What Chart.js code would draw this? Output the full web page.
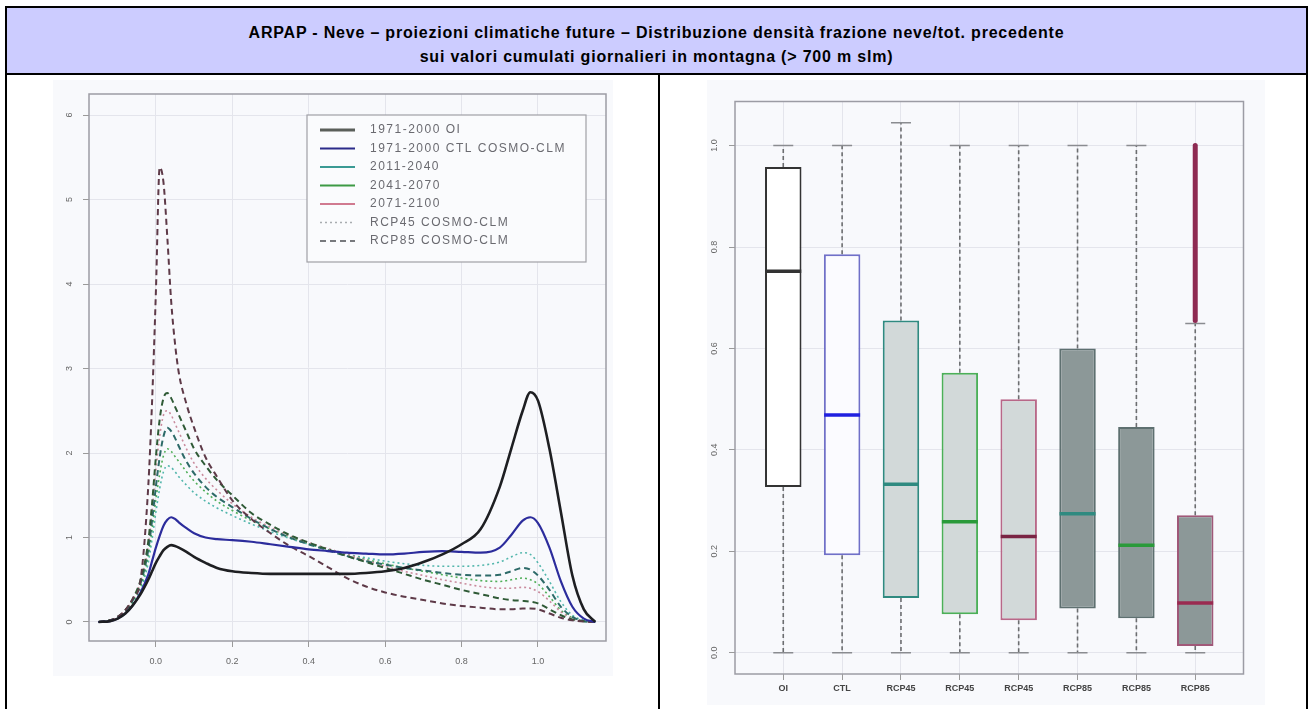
<!DOCTYPE html>
<html>
<head>
<meta charset="utf-8">
<title>ARPAP - Neve</title>
<script src="https://cdn.jsdelivr.net/npm/chart.js@4.4.0/dist/chart.umd.min.js"></script>
<style>
  body { margin: 0; width: 1314px; height: 709px; overflow: hidden; position: relative; background: #fff; font-family: "Liberation Sans", Arial, sans-serif; }
  #title { position: absolute; left: 5px; top: 6px; width: 1303px; height: 69px; box-sizing: border-box; border: 2px solid #000; background: #ccccff;
           text-align: center; font-weight: bold; font-size: 16px; letter-spacing: 0.8px; line-height: 24px; padding-top: 13px; color: #000; }
  .vline { position: absolute; top: 73px; width: 2px; height: 640px; background: #000; }
  .panel { position: absolute; background: #f8f9fc; }
  #leftPanel { left: 53px; top: 80px; width: 560px; height: 596px; }
  #rightPanel { left: 707px; top: 80px; width: 558px; height: 625px; }
</style>
</head>
<body>
<div id="title">ARPAP - Neve – proiezioni climatiche future – Distribuzione densità frazione neve/tot. precedente<br>sui valori cumulati giornalieri in montagna (&gt; 700 m slm)</div>
<div class="vline" style="left:5px"></div>
<div class="vline" style="left:658px"></div>
<div class="vline" style="left:1306px"></div>
<div class="panel" id="leftPanel"><canvas id="densChart"></canvas></div>
<div class="panel" id="rightPanel"><canvas id="boxChart"></canvas></div>

<script>
// ---- densità (pannello sinistro) ----
const densX = [-0.15, -0.12, -0.1, -0.08, -0.06, -0.04, -0.02, -0.01, 0, 0.01, 0.02, 0.03, 0.04, 0.05, 0.06, 0.08, 0.1, 0.13, 0.16, 0.2,
  0.25, 0.3, 0.35, 0.4, 0.45, 0.5, 0.55, 0.6, 0.65, 0.7, 0.75, 0.8, 0.85, 0.9, 0.93, 0.96, 0.98, 1.0, 1.03, 1.06, 1.09, 1.12, 1.15];
const densOI = [0, 0.01, 0.04, 0.1, 0.2, 0.33, 0.5, 0.6, 0.7, 0.78, 0.85, 0.89, 0.91, 0.9, 0.88, 0.83, 0.77, 0.7, 0.64, 0.6,
  0.58, 0.57, 0.57, 0.57, 0.57, 0.57, 0.58, 0.6, 0.64, 0.71, 0.8, 0.92, 1.1, 1.6, 2.05, 2.5, 2.72, 2.62, 2.05, 1.3, 0.55, 0.15, 0];
const densCTL = [0, 0.01, 0.04, 0.1, 0.2, 0.35, 0.56, 0.72, 0.88, 1.02, 1.14, 1.21, 1.24, 1.22, 1.18, 1.11, 1.05, 1.0, 0.98, 0.97,
  0.95, 0.92, 0.89, 0.86, 0.84, 0.82, 0.81, 0.8, 0.81, 0.83, 0.84, 0.83, 0.82, 0.88, 1.03, 1.2, 1.24, 1.17, 0.88, 0.48, 0.18, 0.04, 0];
const dens45_2011 = [0, 0.02, 0.05, 0.11, 0.22, 0.38, 0.7, 0.98, 1.3, 1.58, 1.78, 1.85, 1.83, 1.78, 1.72, 1.62, 1.53, 1.43, 1.35, 1.26,
  1.16, 1.07, 0.99, 0.92, 0.86, 0.8, 0.76, 0.72, 0.69, 0.67, 0.66, 0.66, 0.67, 0.71, 0.77, 0.82, 0.8, 0.7, 0.48, 0.24, 0.08, 0.02, 0];
const dens85_2011 = [0, 0.02, 0.06, 0.13, 0.26, 0.46, 0.85, 1.2, 1.6, 1.95, 2.2, 2.3, 2.26, 2.18, 2.08, 1.9, 1.76, 1.6, 1.48, 1.36,
  1.22, 1.1, 1.0, 0.92, 0.85, 0.78, 0.72, 0.68, 0.64, 0.61, 0.58, 0.56, 0.55, 0.56, 0.6, 0.64, 0.62, 0.55, 0.38, 0.18, 0.06, 0.01, 0];
const dens45_2041 = [0, 0.02, 0.05, 0.12, 0.24, 0.42, 0.78, 1.1, 1.45, 1.75, 1.97, 2.05, 2.02, 1.96, 1.9, 1.78, 1.67, 1.54, 1.43, 1.32,
  1.2, 1.1, 1.01, 0.93, 0.86, 0.8, 0.74, 0.69, 0.64, 0.6, 0.56, 0.52, 0.49, 0.48, 0.5, 0.52, 0.5, 0.45, 0.3, 0.14, 0.05, 0.01, 0];
const dens85_2041 = [0, 0.02, 0.06, 0.14, 0.28, 0.5, 0.95, 1.4, 1.95, 2.4, 2.65, 2.71, 2.65, 2.55, 2.45, 2.25, 2.05, 1.85, 1.68, 1.5,
  1.29, 1.15, 1.03, 0.94, 0.86, 0.78, 0.71, 0.64, 0.57, 0.5, 0.44, 0.38, 0.33, 0.28, 0.26, 0.25, 0.24, 0.22, 0.15, 0.08, 0.03, 0.01, 0];
const dens45_2071 = [0, 0.02, 0.06, 0.14, 0.27, 0.48, 0.9, 1.3, 1.8, 2.2, 2.45, 2.5, 2.45, 2.35, 2.25, 2.05, 1.88, 1.7, 1.56, 1.4,
  1.24, 1.12, 1.02, 0.94, 0.87, 0.8, 0.73, 0.66, 0.6, 0.55, 0.5, 0.46, 0.42, 0.4, 0.4, 0.41, 0.4, 0.36, 0.25, 0.12, 0.04, 0.01, 0];
const dens85_2071 = [0, 0.02, 0.06, 0.14, 0.28, 0.5, 1.6, 2.6, 3.9, 5.38, 5.2, 4.55, 3.8, 3.3, 2.95, 2.58, 2.3, 1.95, 1.72, 1.44,
  1.22, 1.05, 0.9, 0.78, 0.65, 0.52, 0.42, 0.35, 0.3, 0.26, 0.22, 0.19, 0.17, 0.15, 0.15, 0.16, 0.16, 0.15, 0.1, 0.05, 0.02, 0.005, 0];
const densXTicks = [0, 0.2, 0.4, 0.6, 0.8, 1.0];
const densYTicks = [0, 1, 2, 3, 4, 5, 6];
const legendLabels = ['1971-2000 OI', '1971-2000 CTL COSMO-CLM', '2011-2040', '2041-2070', '2071-2100', 'RCP45 COSMO-CLM', 'RCP85 COSMO-CLM'];

// ---- boxplot (pannello destro) ----
const boxCategories = ['OI', 'CTL', 'RCP45', 'RCP45', 'RCP45', 'RCP85', 'RCP85', 'RCP85'];
const boxMin    = [0, 0, 0, 0, 0, 0, 0, 0];
const boxQ1     = [0.327, 0.192, 0.108, 0.076, 0.064, 0.087, 0.068, 0.013];
const boxMedian = [0.752, 0.469, 0.332, 0.258, 0.229, 0.274, 0.212, 0.098];
const boxQ3     = [0.958, 0.786, 0.655, 0.552, 0.5, 0.6, 0.445, 0.271];
const boxMax    = [1, 1, 1.045, 1, 1, 1, 1, 0.649];
const outlierLo = [null, null, null, null, null, null, null, 0.655];
const outlierHi = [null, null, null, null, null, null, null, 1.0];
const boxYTicks = [0, 0.2, 0.4, 0.6, 0.8, 1.0];

const FONT = '"Liberation Sans", Arial, sans-serif';
Chart.defaults.font.family = FONT;

const frame = {
  id: 'frame',
  afterDatasetsDraw(chart) {
    const { ctx, chartArea: a } = chart;
    ctx.save();
    ctx.strokeStyle = '#9c9ca4';
    ctx.lineWidth = 1.5;
    ctx.strokeRect(a.left, a.top, a.right - a.left, a.bottom - a.top);
    ctx.restore();
  }
};

// etichette asse y ruotate come in R
function rotatedY(ticks, fmt, xPos) {
  return {
    id: 'rotY',
    afterDraw(chart) {
      const { ctx } = chart;
      const y = chart.scales.y;
      ctx.save();
      ctx.fillStyle = '#666';
      ctx.font = '9px ' + FONT;
      ctx.textAlign = 'center';
      ctx.textBaseline = 'middle';
      ticks.forEach(v => {
        ctx.save();
        ctx.translate(xPos, y.getPixelForValue(v));
        ctx.rotate(-Math.PI / 2);
        ctx.fillText(fmt(v), 0, 0);
        ctx.restore();
      });
      ctx.restore();
    }
  };
}

const legendStyles = [
  { color: '#5a5f5a', width: 3, dash: [] },
  { color: '#2b2b8a', width: 2, dash: [] },
  { color: '#3a9a94', width: 2, dash: [] },
  { color: '#3d9a45', width: 2, dash: [] },
  { color: '#d07a90', width: 2, dash: [] },
  { color: '#a8acb0', width: 1.5, dash: [2, 3] },
  { color: '#77797d', width: 2, dash: [6, 4] }
];

const densLegend = {
  id: 'densLegend',
  afterDraw(chart) {
    const { ctx, chartArea: a } = chart;
    const w = 279, h = 147;
    const x0 = a.right - 20 - w, y0 = a.top + 21;
    ctx.save();
    ctx.fillStyle = '#fafbfd';
    ctx.fillRect(x0, y0, w, h);
    ctx.strokeStyle = '#a0a0a6';
    ctx.lineWidth = 1.2;
    ctx.strokeRect(x0, y0, w, h);
    ctx.font = '12px ' + FONT;
    ctx.letterSpacing = '1.5px';
    ctx.textBaseline = 'middle';
    legendLabels.forEach((lab, i) => {
      const st = legendStyles[i];
      const ly = y0 + 15 + i * 18.5;
      ctx.strokeStyle = st.color;
      ctx.lineWidth = st.width;
      ctx.setLineDash(st.dash);
      ctx.beginPath();
      ctx.moveTo(x0 + 13, ly);
      ctx.lineTo(x0 + 48, ly);
      ctx.stroke();
      ctx.setLineDash([]);
      ctx.fillStyle = '#6a6a70';
      ctx.fillText(lab, x0 + 63, ly);
    });
    ctx.restore();
  }
};

function toPts(arr) {
  return densX.map((x, i) => ({ x: x, y: arr[i] }));
}

function lineSet(arr, color, width, dash) {
  return {
    data: toPts(arr),
    borderColor: color,
    borderWidth: width,
    borderDash: dash,
    pointRadius: 0,
    cubicInterpolationMode: 'monotone',
    fill: false
  };
}

new Chart(document.getElementById('densChart'), {
  type: 'line',
  data: {
    datasets: [
      lineSet(densOI, '#1e1f22', 2.6, []),
      lineSet(densCTL, '#2c2c9c', 2.2, []),
      lineSet(dens85_2071, '#5e3a48', 2, [6, 4]),
      lineSet(dens85_2041, '#2f5a36', 2, [6, 4]),
      lineSet(dens85_2011, '#2d6a68', 2, [6, 4]),
      lineSet(dens45_2071, '#c98a9c', 1.6, [2, 3]),
      lineSet(dens45_2041, '#4fae58', 1.6, [2, 3]),
      lineSet(dens45_2011, '#52b6ac', 1.6, [2, 3])
    ]
  },
  options: {
    animation: false,
    responsive: true,
    maintainAspectRatio: false,
    layout: { padding: { top: 14, right: 7, left: 0, bottom: 0 } },
    plugins: { legend: { display: false }, tooltip: { enabled: false } },
    scales: {
      x: {
        type: 'linear', min: -0.175, max: 1.178,
        afterBuildTicks: s => { s.ticks = densXTicks.map(v => ({ value: v })); },
        afterFit: s => { s.height = 35; },
        ticks: { callback: v => v.toFixed(1), font: { size: 9 }, color: '#666', padding: 9, maxRotation: 0, autoSkip: false },
        grid: { color: '#e4e5ec', tickColor: '#9a9a9a', tickLength: 6 },
        border: { display: false }
      },
      y: {
        type: 'linear', min: -0.225, max: 6.25,
        afterBuildTicks: s => { s.ticks = densYTicks.map(v => ({ value: v })); },
        afterFit: s => { s.width = 36; },
        ticks: { display: false },
        grid: { color: '#e4e5ec', tickColor: '#9a9a9a', tickLength: 6 },
        border: { display: false }
      }
    }
  },
  plugins: [frame, rotatedY(densYTicks, v => String(v), 17), densLegend]
});

// ---- boxplot ----
const boxFill = ['#ffffff', '#fbfbff', '#d2d9d9', '#d2d9d9', '#d2d9d9', '#8c9898', '#8c9898', '#8c9898'];
const boxLine = ['#333333', '#7070c8', '#2f8a80', '#4caf58', '#b86888', '#5e7070', '#5e7070', '#a05878'];
const medLine = ['#333333', '#2020e0', '#2f8a80', '#2a9a3a', '#7a2444', '#2f8a80', '#2a9a3a', '#9a2a50'];

const whiskers = {
  id: 'whiskers',
  beforeDatasetsDraw(chart) {
    const { ctx, scales: { x, y } } = chart;
    ctx.save();
    boxCategories.forEach((c, i) => {
      const px = x.getPixelForValue(i + 1);
      ctx.strokeStyle = '#6c6e70';
      ctx.lineWidth = 1.6;
      ctx.setLineDash([4, 3]);
      ctx.beginPath();
      ctx.moveTo(px, y.getPixelForValue(boxQ3[i]));
      ctx.lineTo(px, y.getPixelForValue(boxMax[i]));
      ctx.moveTo(px, y.getPixelForValue(boxQ1[i]));
      ctx.lineTo(px, y.getPixelForValue(boxMin[i]));
      ctx.stroke();
      ctx.setLineDash([]);
      ctx.strokeStyle = '#8a8c90';
      ctx.lineWidth = 1.5;
      ctx.beginPath();
      [boxMax[i], boxMin[i]].forEach(v => {
        const py = y.getPixelForValue(v);
        ctx.moveTo(px - 10, py);
        ctx.lineTo(px + 10, py);
      });
      ctx.stroke();
    });
    ctx.restore();
  },
  afterDatasetsDraw(chart) {
    const { ctx, scales: { x, y } } = chart;
    ctx.save();
    ctx.strokeStyle = '#8e2a52';
    ctx.lineWidth = 5;
    ctx.lineCap = 'round';
    boxCategories.forEach((c, i) => {
      if (outlierLo[i] == null) return;
      const px = x.getPixelForValue(i + 1);
      ctx.beginPath();
      ctx.moveTo(px, y.getPixelForValue(outlierLo[i]));
      ctx.lineTo(px, y.getPixelForValue(outlierHi[i]));
      ctx.stroke();
    });
    ctx.restore();
  }
};

new Chart(document.getElementById('boxChart'), {
  type: 'bar',
  data: {
    datasets: [
      {
        type: 'bar',
        data: boxCategories.map((c, i) => ({ x: i + 1, y: [boxQ1[i], boxQ3[i]] })),
        backgroundColor: boxFill,
        borderColor: boxLine,
        borderWidth: 2,
        borderSkipped: false,
        barPercentage: 0.62,
        categoryPercentage: 1,
        order: 2
      },
      {
        type: 'line',
        data: boxCategories.map((c, i) => ({ x: i + 1, y: boxMedian[i] })),
        showLine: false,
        pointStyle: 'line',
        pointRadius: 18,
        pointHoverRadius: 18,
        pointBorderWidth: 3.5,
        pointBorderColor: medLine,
        order: 0
      }
    ]
  },
  options: {
    animation: false,
    responsive: true,
    maintainAspectRatio: false,
    layout: { padding: { top: 10, right: 10, left: 0, bottom: 0 } },
    plugins: { legend: { display: false }, tooltip: { enabled: false } },
    scales: {
      x: {
        type: 'linear', min: 0.18, max: 8.82, offset: false,
        afterBuildTicks: s => { s.ticks = boxCategories.map((c, i) => ({ value: i + 1 })); },
        afterFit: s => { s.height = 31; },
        ticks: { callback: v => boxCategories[v - 1], font: { size: 9, weight: 'bold' }, color: '#444', padding: 3, maxRotation: 0, autoSkip: false },
        grid: { color: '#e4e5ec', tickColor: '#9a9a9a', tickLength: 6, offset: false },
        border: { display: false }
      },
      y: {
        type: 'linear', min: -0.042, max: 1.087,
        afterBuildTicks: s => { s.ticks = boxYTicks.map(v => ({ value: v })); },
        afterFit: s => { s.width = 28; },
        ticks: { display: false },
        grid: { color: '#e4e5ec', tickColor: '#9a9a9a', tickLength: 6 },
        border: { display: false }
      }
    }
  },
  plugins: [frame, whiskers, rotatedY(boxYTicks, v => v.toFixed(1), 8)]
});
</script>
</body>
</html>
